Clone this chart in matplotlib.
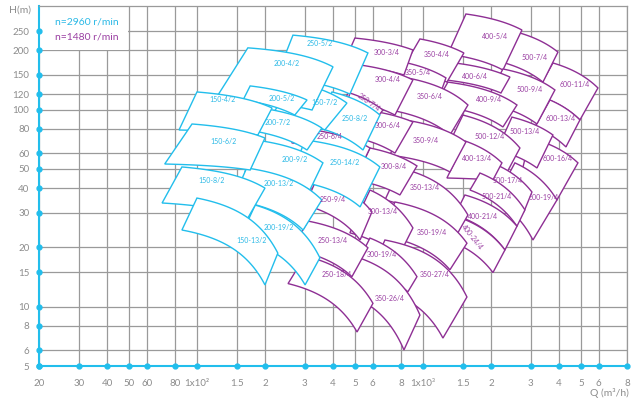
import numpy as np
import matplotlib
matplotlib.use("Agg")
import matplotlib.pyplot as plt
from matplotlib.patches import Polygon, Rectangle

# axis ticks
q_ticks = [20, 30, 40, 50, 60, 80, 100, 150, 200, 300, 400, 500, 600, 800,
           1000, 1500, 2000, 3000, 4000, 5000, 6000, 8000]
q_labels = ["20", "30", "40", "50", "60", "80", "1x10²", "1.5", "2", "3", "4",
            "5", "6", "8", "1x10³", "1.5", "2", "3", "4", "5", "6", "8"]
h_ticks = [5, 6, 8, 10, 15, 20, 30, 40, 50, 60, 80, 100, 120, 150, 200, 250]

# n=2960 r/min pumps, corners (Q m3/h, H m): top-left, top-right, bottom-right, bottom-left
names_2p = ["250-5/2", "200-4/2", "150-4/2", "200-5/2", "150-7/2", "250-8/2", "200-7/2",
            "150-6/2", "200-9/2", "250-14/2", "150-8/2", "200-13/2", "200-19/2", "150-13/2"]
tl_q_2p = [266, 168, 100, 172, 266, 396, 168, 95.1, 181, 301, 85.8, 166, 181, 100]
tl_h_2p = [239, 206, 123, 132, 138, 123, 104, 84.6, 70.2, 70.2, 51.2, 50.6, 32.8, 35.6]
tr_q_2p = [571, 400, 215, 307, 461, 645, 357, 200, 361, 645, 200, 357, 350, 228]
tr_h_2p = [194, 165, 102, 112, 108, 93.9, 80.7, 71.8, 53.7, 51.2, 40.0, 34.8, 17.7, 18.7]
br_q_2p = [475, 323, 186, 271, 368, 543, 307, 172, 316, 527, 168, 295, 301, 200]
br_h_2p = [120, 99.6, 74.4, 93.9, 78.9, 62.4, 62.4, 49.4, 39.1, 32.1, 28.2, 24.5, 12.9, 12.9]
bl_q_2p = [224, 120, 83.3, 160, 215, 333, 144, 72, 163, 258, 70.1, 144, 155, 85.8]
bl_h_2p = [145, 112, 78.9, 112, 93.9, 81.7, 80.7, 53, 48.3, 44.0, 33.6, 34.8, 22.3, 24.5]
# where each name is printed (Q, H)
lab_q_2p = [350, 249, 129, 237, 368, 500, 228, 131, 271, 452, 116, 229, 229, 175]
lab_h_2p = [217, 172, 112, 114, 109, 90.5, 85.6, 68.8, 55.6, 53.7, 43.6, 42.3, 25.2, 21.8]

# n=1480 r/min pumps
names_4p = ["400-5/4", "500-7/4", "600-11/4", "350-4/4", "300-3/4", "400-6/4", "500-9/4",
            "350-5/4", "300-4/4", "400-9/4", "600-13/4", "350-6/4", "250-7/4", "300-6/4",
            "500-12/4", "500-13/4", "600-16/4", "250-6/4", "350-9/4", "300-8/4", "400-13/4",
            "250-9/4", "350-13/4", "500-17/4", "500-21/4", "600-19/4", "300-13/4", "400-21/4",
            "250-13/4", "350-19/4", "400-24/4", "300-19/4", "250-18/4", "350-27/4", "350-26/4"]
tl_q_4p = [1550, 2687, 3761, 970, 500, 1385, 2260, 632, 527, 1290, 3648, 768, 475, 632,
           1503, 2477, 2976, 280, 832, 583, 1534, 340, 791, 2127, 1788, 2553, 583, 1534,
           310, 752, 1344, 583, 301, 679, 475]
tl_h_4p = [306, 245, 172.6, 228.6, 231, 172.6, 160.9, 183, 168.6, 138, 112, 148, 121.5, 97.3,
           93.9, 91.7, 71.9, 80.8, 88.7, 63.9, 69.4, 45, 50.6, 52.4, 47.7, 53.7, 39.1, 36.9,
           27.2, 34.0, 29.2, 22.3, 18.1, 21.8, 18.3]
tr_q_4p = [2742, 3958, 5950, 1518, 903, 2427, 3838, 1264, 903, 2607, 4952, 1582, 665, 903,
           2687, 3761, 4853, 583, 1550, 941, 2237, 595, 1582, 3037, 2827, 3918, 903, 2607,
           571, 1566, 2306, 941, 601, 1566, 970]
tr_h_4p = [253.8, 196, 128.9, 194, 200.9, 146.4, 125.9, 145, 141.5, 105.6, 88.7, 105.6, 99.6, 86.6,
           63.9, 74.4, 53.7, 63.9, 68.6, 51.8, 53.7, 30.3, 29.2, 38.2, 31.0, 34.8, 25.1, 25.6,
           19.9, 21.0, 19.4, 14.2, 10.4, 11.2, 9.07]
br_q_4p = [2260, 3397, 4952, 1277, 824, 2214, 3196, 1189, 752, 2260, 4294, 1317, 626, 752,
           2260, 3196, 3918, 537, 1317, 791, 2041, 527, 1344, 2798, 2607, 3068, 775, 2306,
           485, 1317, 2041, 858, 511, 1226, 824]
br_h_4p = [159, 138, 88.7, 138, 150, 121.5, 84.6, 118.7, 93.9, 81.7, 64.7, 74.4, 90.6, 60.2,
           44, 50.6, 34.8, 52.4, 48.3, 36.9, 44, 21.8, 21.0, 30.3, 25.6, 21.8, 17.7, 19.4,
           14.2, 15.4, 14.9, 11.9, 7.44, 6.93, 6.03]
bl_q_4p = [1290, 2306, 3131, 816, 443, 1264, 1881, 613, 452, 1130, 3131, 632, 466, 554,
           1277, 2127, 2687, 263, 714.6, 500, 1277, 301, 679, 1881, 1615, 2083, 475, 1385,
           263, 645, 1213, 500, 253, 554, 408]
bl_h_4p = [191.7, 172.6, 118.7, 162.8, 168.6, 141.5, 108.1, 150, 112, 105.6, 81.7, 102, 112, 70.2,
           63.9, 62.4, 44, 67.8, 58.8, 44, 45, 32.8, 34.8, 36.9, 39.1, 34.8, 23.7, 29.2,
           19.6, 23.1, 22.3, 15.8, 13.1, 12.9, 12.2]
lab_q_4p = [2083, 3131, 4706, 1149, 691, 1699, 2976, 953, 702, 1960, 4081, 1074, 577, 700,
            1980, 2827, 3958, 388, 1031, 744, 1735, 400, 1020, 2378, 2127, 3431, 665, 1843,
            400, 1096, 1648, 659, 417, 1130, 715]
lab_h_4p = [234, 185, 135, 191, 195, 148, 127, 154, 141.5, 113, 90.6, 116, 109, 82.7,
            72.7, 77.1, 56.7, 73.5, 69.4, 51.2, 56.3, 34.8, 40.5, 43.5, 36.4, 36.0, 30.3, 28.6,
            21.8, 23.7, 22.6, 18.3, 14.5, 14.5, 11.0]

CYAN = "#22BEEC"
PURPLE = "#8E2F94"
CYAN_TXT = "#2BB9E6"
PURPLE_TXT = "#9A3FA2"
GRAY = "#9a9a9a"
rotations = {"250-7/4": -35, "400-24/4": -52}

plt.rcParams["font.family"] = ["Lato", "DejaVu Sans"]


def pump_curve(q1, h1, q2, h2, n=40):
    # H = a - b*Q^2 through both corners
    b = (h1 - h2) / (q2 ** 2 - q1 ** 2)
    a = h1 + b * q1 ** 2
    q = np.linspace(q1, q2, n)
    return q, a - b * q ** 2


def draw_tiles(ax, names, tlq, tlh, trq, trh, brq, brh, blq, blh, lq, lh, color, tcolor, z0):
    # tiles further up/right (and bigger casings) go underneath
    size = [int(n.split("-")[0]) for n in names]
    order = sorted(range(len(names)),
                   key=lambda i: -(np.log10(tlq[i]) + np.log10(tlh[i]) + 0.0005 * size[i]))
    for k, i in enumerate(order):
        qt, ht = pump_curve(tlq[i], tlh[i], trq[i], trh[i])
        qb, hb = pump_curve(blq[i], blh[i], brq[i], brh[i])
        verts = np.column_stack([np.r_[qt, qb[::-1]], np.r_[ht, hb[::-1]]])
        ax.add_patch(Polygon(verts, closed=True, facecolor="white", edgecolor=color,
                             lw=1.0, zorder=z0 + k, joinstyle="miter"))
    for i in range(len(names)):
        ax.text(lq[i], lh[i], names[i], color=tcolor, fontsize=5, ha="center",
                va="center", rotation=rotations.get(names[i], 0), zorder=500)


fig = plt.figure(figsize=(6.4, 4.11), dpi=100)
ax = fig.add_axes([39 / 640, 45 / 411, 588 / 640, 359.5 / 411])
ax.set_xscale("log")
ax.set_yscale("log")
ax.set_xlim(20, 8000)
ax.set_ylim(5, 334)

ax.set_xticks(q_ticks)
ax.set_xticklabels(q_labels)
ax.set_yticks(h_ticks)
ax.set_yticklabels([str(h) for h in h_ticks])
ax.minorticks_off()
ax.tick_params(length=0, labelsize=7, colors="#8c8c8c")
ax.tick_params(axis="x", pad=9)
ax.tick_params(axis="y", pad=7)
ax.set_axisbelow(True)
ax.grid(True, color=GRAY, lw=0.9)

for side in ["left", "bottom"]:
    ax.spines[side].set_color(CYAN)
    ax.spines[side].set_linewidth(1.5)
for side in ["top", "right"]:
    ax.spines[side].set_color(GRAY)
    ax.spines[side].set_linewidth(0.9)

ax.plot(q_ticks, [5] * len(q_ticks), "o", color=CYAN, ms=3.5, clip_on=False, zorder=600)
ax.plot([20] * len(h_ticks), h_ticks, "o", color=CYAN, ms=3.5, clip_on=False, zorder=600)

# white area behind the speed legend
ax.add_patch(Rectangle((20, 200), 29.5, 134, facecolor="white", edgecolor="none", zorder=0.8))
ax.text(0.027, 0.957, "n=2960 r/min", transform=ax.transAxes, color=CYAN_TXT,
        fontsize=7.5, va="center")
ax.text(0.027, 0.915, "n=1480 r/min", transform=ax.transAxes, color=PURPLE_TXT,
        fontsize=7.5, va="center")

draw_tiles(ax, names_4p, tl_q_4p, tl_h_4p, tr_q_4p, tr_h_4p, br_q_4p, br_h_4p,
           bl_q_4p, bl_h_4p, lab_q_4p, lab_h_4p, PURPLE, PURPLE_TXT, 10)
draw_tiles(ax, names_2p, tl_q_2p, tl_h_2p, tr_q_2p, tr_h_2p, br_q_2p, br_h_2p,
           bl_q_2p, bl_h_2p, lab_q_2p, lab_h_2p, CYAN, CYAN_TXT, 100)

fig.text(20.5 / 640, 401 / 411, "H(m)", color="#8c8c8c", fontsize=7.5, ha="center", va="center")
fig.text(629 / 640, 18 / 411, "Q (m³/h)", color="#8c8c8c", fontsize=7.5, ha="right", va="center")

fig.savefig("out.png", dpi=100, facecolor="white")
